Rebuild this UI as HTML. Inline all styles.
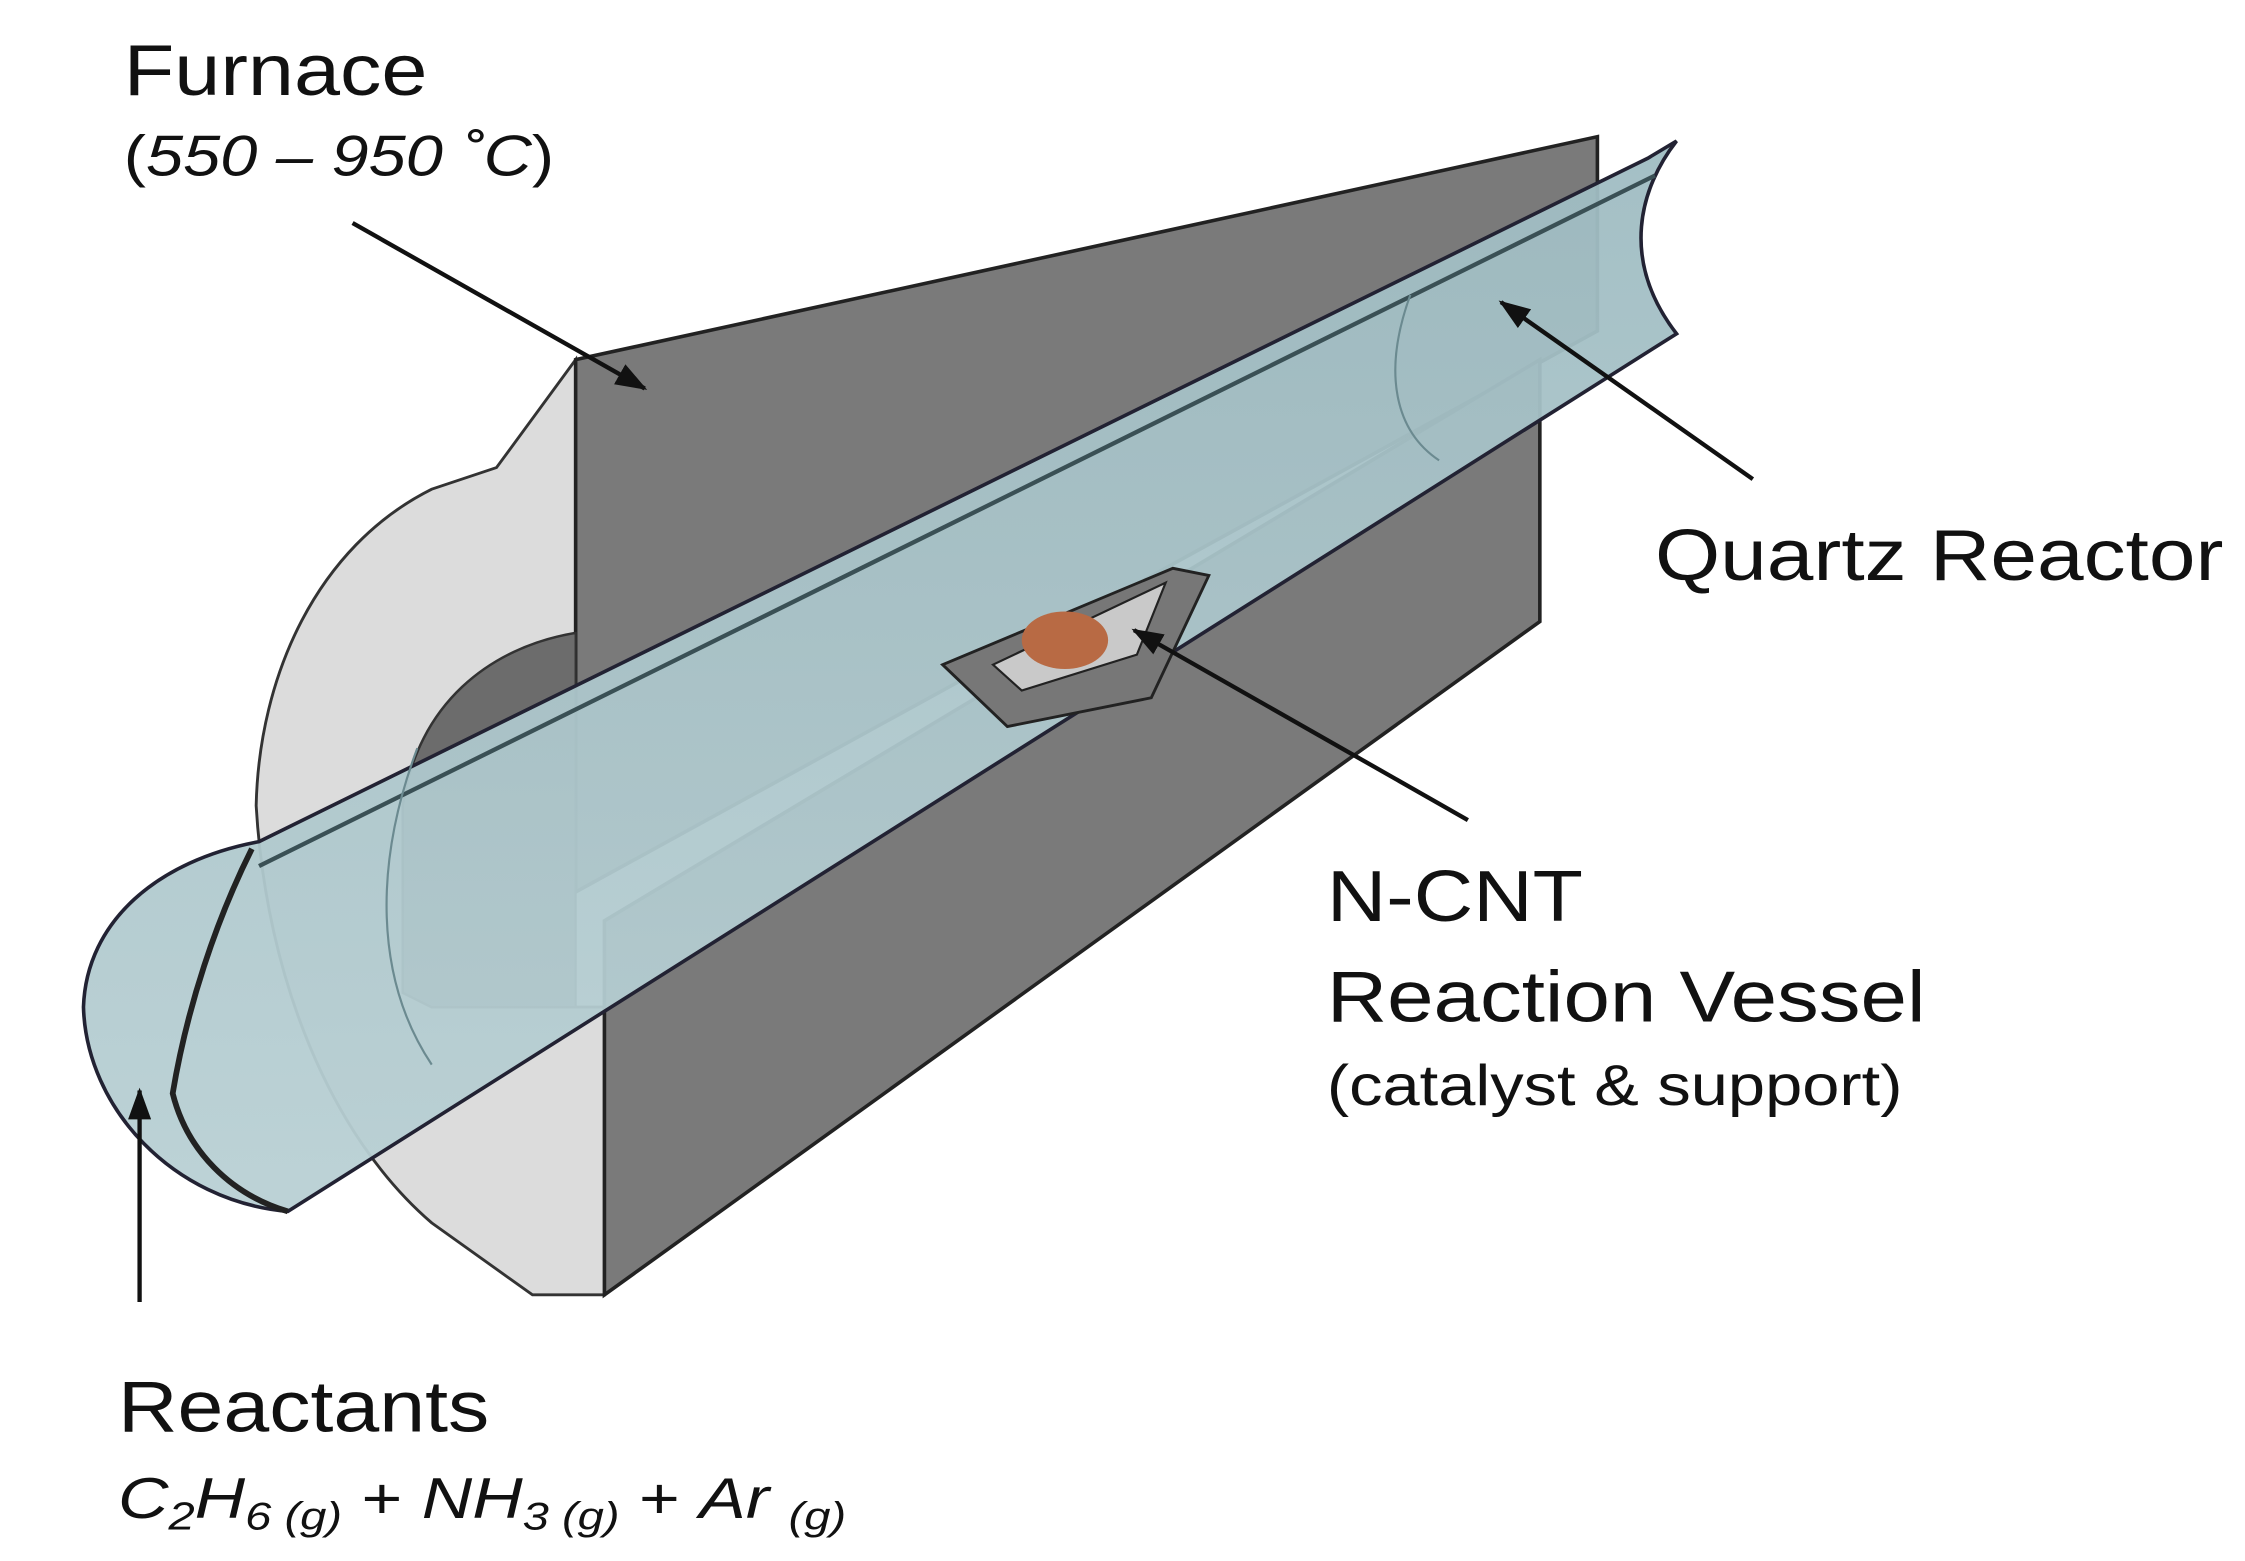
<!DOCTYPE html>
<html><head><meta charset="utf-8"><style>
html,body{margin:0;padding:0;background:#fff;}
svg{display:block;}
text{font-family:"Liberation Sans",Arial,sans-serif;fill:#111;}
</style></head><body>
<svg width="2245" height="1561" viewBox="0 0 1560 1085" preserveAspectRatio="none">
<defs>
<marker id="ah" markerWidth="22" markerHeight="16" refX="20" refY="8" orient="auto" markerUnits="userSpaceOnUse" viewBox="0 0 22 16">
<path d="M0,0 L22,8 L0,16 z" fill="#111"/></marker>
<linearGradient id="tubeg" x1="0" y1="0" x2="0" y2="1">
<stop offset="0" stop-color="#9fbcc2"/><stop offset="1" stop-color="#b9d0d4"/></linearGradient>
</defs>
<path d="M178,560 C180,470 220,380 300,340 L345,325 L400,250 L400,440 C340,450 290,490 280,560 L280,690 L300,700 L420,700 L420,900 L370,900 L300,850 C230,790 185,680 178,560 Z" fill="#dcdcdc" stroke="#333" stroke-width="2"/>
<path d="M400,250 L1110,95 L1110,230 L400,620 Z" fill="#7a7a7a" stroke="#222" stroke-width="2.5"/>
<path d="M280,560 C290,490 340,450 400,440 L400,700 L300,700 L280,690 Z" fill="#6c6c6c" stroke="#333" stroke-width="1.5"/>
<path d="M420,640 L1070,250 L1070,432 L420,900 Z" fill="#7a7a7a" stroke="#222" stroke-width="2.5"/>
<path d="M180,585 L1145,110 L1165,98 C1140,130 1125,180 1165,232 L200,842 C120,835 60,770 58,700 C60,640 110,598 180,585 Z" fill="url(#tubeg)" fill-opacity="0.95" stroke="#223" stroke-width="2.5"/>
<path d="M180,602 L1150,122" stroke="#3a5055" stroke-width="3" fill="none"/>
<path d="M175,590 C150,640 130,700 120,760 C130,800 160,830 200,842" stroke="#222" stroke-width="4" fill="none"/>
<path d="M980,205 C960,260 970,300 1000,320" stroke="#6b8a90" stroke-width="1.5" fill="none"/>
<path d="M290,520 C260,600 260,680 300,740" stroke="#6b8a90" stroke-width="1.5" fill="none"/>
<path d="M655,462 L815,395 L840,400 L800,485 L700,505 Z" fill="#777" stroke="#222" stroke-width="2"/>
<path d="M690,462 L810,405 L790,455 L710,480 Z" fill="#c9c9c9" stroke="#222" stroke-width="1.5"/>
<ellipse cx="740" cy="445" rx="30" ry="20" fill="#b86a44"/>
<line x1="245" y1="155" x2="448" y2="270" stroke="#111" stroke-width="3" marker-end="url(#ah)"/>
<line x1="1218" y1="333" x2="1043" y2="210" stroke="#111" stroke-width="3" marker-end="url(#ah)"/>
<line x1="1020" y1="570" x2="788" y2="438" stroke="#111" stroke-width="3" marker-end="url(#ah)"/>
<line x1="97" y1="905" x2="97" y2="758" stroke="#111" stroke-width="3" marker-end="url(#ah)"/>
<text x="86" y="66" font-size="50" textLength="211" lengthAdjust="spacingAndGlyphs">Furnace</text>
<text x="86" y="122" font-size="40" textLength="299" lengthAdjust="spacingAndGlyphs">(<tspan font-style="italic">550 – 950 ˚C</tspan>)</text>
<text x="1150" y="403" font-size="50" textLength="395" lengthAdjust="spacingAndGlyphs">Quartz Reactor</text>
<text x="922" y="640" font-size="50" textLength="178" lengthAdjust="spacingAndGlyphs">N-CNT</text>
<text x="922" y="710" font-size="50" textLength="416" lengthAdjust="spacingAndGlyphs">Reaction Vessel</text>
<text x="922" y="768" font-size="40" textLength="400" lengthAdjust="spacingAndGlyphs">(catalyst &amp; support)</text>
<text x="82" y="995" font-size="50" textLength="258" lengthAdjust="spacingAndGlyphs">Reactants</text>
<text x="82" y="1055" font-size="40" font-style="italic" textLength="506" lengthAdjust="spacingAndGlyphs">C<tspan font-size="27" dy="8">2</tspan><tspan dy="-8">H</tspan><tspan font-size="27" dy="8">6 (g)</tspan><tspan dy="-8" font-style="normal"> +  </tspan>NH<tspan font-size="27" dy="8">3 (g)</tspan><tspan dy="-8" font-style="normal"> +  </tspan>Ar <tspan font-size="27" dy="8">(g)</tspan></text>
</svg>
</body></html>
